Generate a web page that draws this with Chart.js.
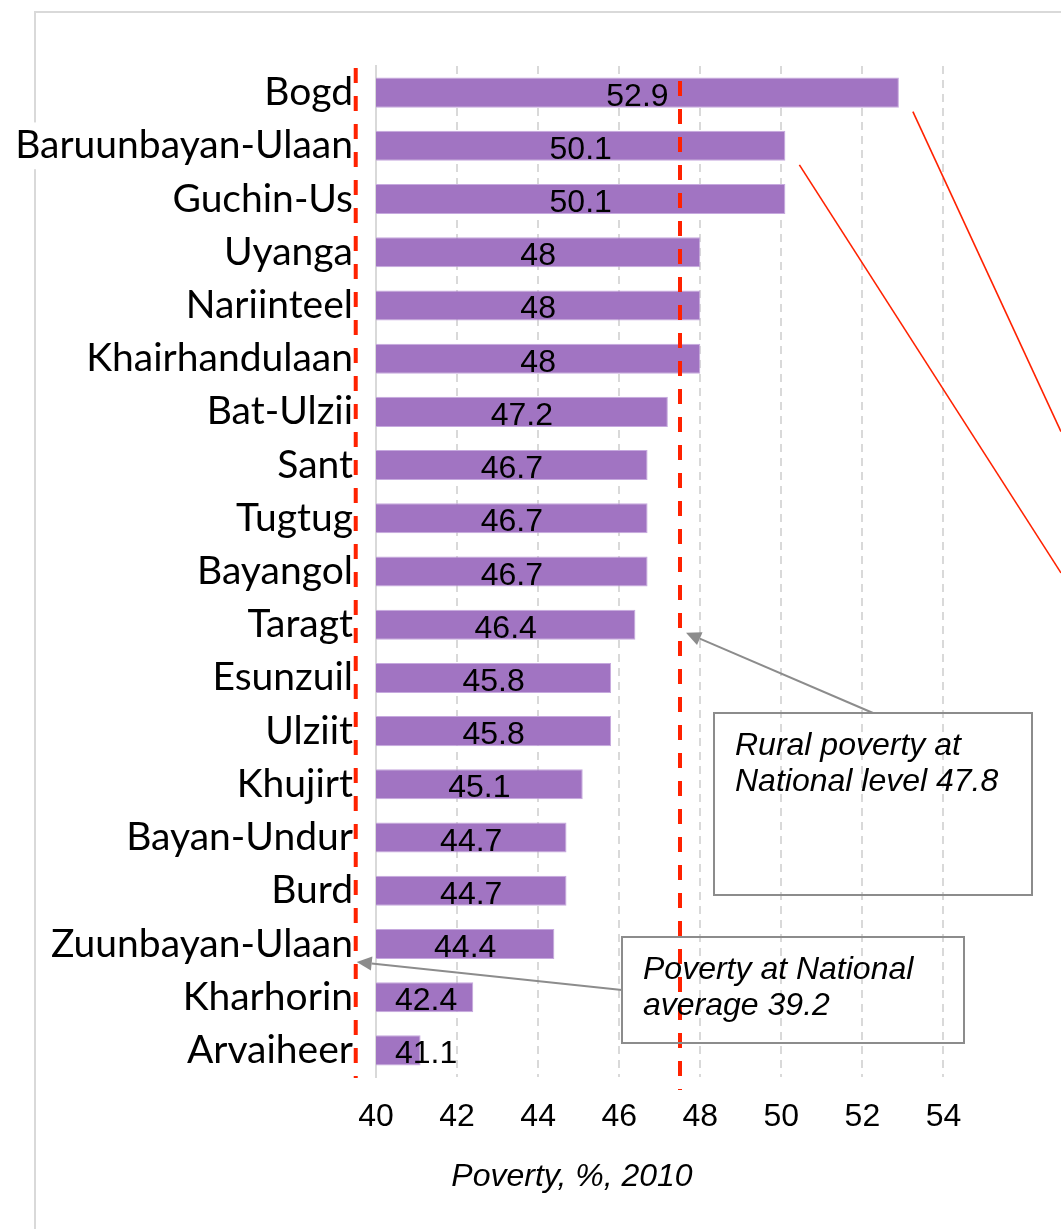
<!DOCTYPE html>
<html>
<head>
<meta charset="utf-8">
<script src="https://cdn.jsdelivr.net/npm/chart.js@4.4.1/dist/chart.umd.min.js"></script>
<style>
  html, body { margin: 0; padding: 0; background: #fff; }
  canvas { display: block; }
</style>
</head>
<body>
<canvas id="chart" width="1061" height="1229"></canvas>
<script>
const soums = ['Bogd', 'Baruunbayan-Ulaan', 'Guchin-Us', 'Uyanga', 'Nariinteel', 'Khairhandulaan',
    'Bat-Ulzii', 'Sant', 'Tugtug', 'Bayangol', 'Taragt', 'Esunzuil', 'Ulziit', 'Khujirt',
    'Bayan-Undur', 'Burd', 'Zuunbayan-Ulaan', 'Kharhorin', 'Arvaiheer'];
const poverty = [52.9, 50.1, 50.1, 48, 48, 48, 47.2, 46.7, 46.7, 46.7, 46.4, 45.8, 45.8, 45.1,
    44.7, 44.7, 44.4, 42.4, 41.1];
const xTicks = [40, 42, 44, 46, 48, 50, 52, 54];
// where the two dashed reference lines sit in the source figure
const refLines = [39.5, 47.5];
const ruralNote = ['Rural poverty at', 'National level 47.8'];
const nationalNote = ['Poverty at National', 'average 39.2'];
const axisTitle = 'Poverty, %, 2010';

const AXIS_FONT = "Arial, 'Liberation Sans', sans-serif";
const LABEL_FONT = "Lato, 'Open Sans', sans-serif";

function drawArrow(ctx, x1, y1, x2, y2) {
    const ang = Math.atan2(y2 - y1, x2 - x1);
    const head = 15, half = 7;
    const bx = x2 - head * Math.cos(ang), by = y2 - head * Math.sin(ang);
    ctx.beginPath();
    ctx.moveTo(x1, y1);
    ctx.lineTo(bx, by);
    ctx.stroke();
    ctx.beginPath();
    ctx.moveTo(x2, y2);
    ctx.lineTo(bx + half * Math.sin(ang), by - half * Math.cos(ang));
    ctx.lineTo(bx - half * Math.sin(ang), by + half * Math.cos(ang));
    ctx.closePath();
    ctx.fill();
}

function drawNote(ctx, lines, left, top, right, bottom, textX, firstBaseline) {
    ctx.strokeStyle = '#8c8c8c';
    ctx.lineWidth = 2;
    ctx.strokeRect(left, top, right - left, bottom - top);
    ctx.fillStyle = '#000';
    ctx.font = `italic 32px ${AXIS_FONT}`;
    ctx.textAlign = 'left';
    ctx.textBaseline = 'alphabetic';
    lines.forEach((t, i) => ctx.fillText(t, textX, firstBaseline + i * 36));
}

const framePlugin = {
    id: 'frame',
    beforeDraw(chart) {
        const ctx = chart.ctx;
        ctx.save();
        ctx.fillStyle = '#fff';
        ctx.fillRect(0, 0, chart.width, chart.height);
        ctx.strokeStyle = '#d9d9d9';
        ctx.lineWidth = 2;
        ctx.beginPath();
        ctx.moveTo(35, chart.height);
        ctx.lineTo(35, 12);
        ctx.lineTo(chart.width, 12);
        ctx.stroke();
        ctx.restore();
    }
};

const notes = {
    id: 'notes',
    afterDraw(chart) {
        const ctx = chart.ctx;
        const xs = chart.scales.x, ys = chart.scales.y;
        const area = chart.chartArea;
        ctx.save();

        // value labels, centred in each bar (short bars push the label right)
        ctx.font = `32px ${AXIS_FONT}`;
        ctx.fillStyle = '#000';
        ctx.textAlign = 'center';
        ctx.textBaseline = 'alphabetic';
        const x0 = xs.getPixelForValue(40);
        poverty.forEach((v, i) => {
            const txt = String(v);
            const half = ctx.measureText(txt).width / 2;
            const cx = Math.max((x0 + xs.getPixelForValue(v)) / 2, x0 + 19 + half);
            ctx.fillText(txt, cx, ys.getPixelForValue(i) + 13);
        });

        // red dashed reference lines
        ctx.strokeStyle = '#ff2200';
        ctx.lineWidth = 4;
        ctx.setLineDash([15, 13]);
        const lx = xs.getPixelForValue(refLines[0]);
        ctx.beginPath();
        ctx.moveTo(lx, area.top + 2);
        ctx.lineTo(lx, area.bottom + 1);
        ctx.stroke();
        const rx = xs.getPixelForValue(refLines[1]);
        ctx.beginPath();
        ctx.moveTo(rx, area.top + 15);
        ctx.lineTo(rx, area.bottom + 13);
        ctx.stroke();
        ctx.setLineDash([]);

        // thin red leaders from the two top bars
        ctx.lineWidth = 1.6;
        const slopes = [2.16, 1.56];
        [0, 1].forEach((i, k) => {
            const sx = xs.getPixelForValue(poverty[i]) + 14;
            const sy = ys.getPixelForValue(i) + 19;
            ctx.beginPath();
            ctx.moveTo(sx, sy);
            ctx.lineTo(chart.width, sy + (chart.width - sx) * slopes[k]);
            ctx.stroke();
        });

        // annotation boxes with arrows
        ctx.strokeStyle = '#8c8c8c';
        ctx.fillStyle = '#8c8c8c';
        ctx.lineWidth = 2;
        drawArrow(ctx, 873, 713, rx + 6, ys.getPixelForValue(10) + 8);
        drawArrow(ctx, 622, 990, lx + 1, ys.getPixelForValue(16) + 18);
        drawNote(ctx, ruralNote, 714, 713, 1032, 895, 735, 755);
        drawNote(ctx, nationalNote, 622, 937, 964, 1043, 643, 979);

        // axis title
        ctx.font = `italic 32px ${AXIS_FONT}`;
        ctx.fillStyle = '#000';
        ctx.textAlign = 'center';
        ctx.fillText(axisTitle, 572, 1186);
        ctx.restore();
    }
};

new Chart(document.getElementById('chart'), {
    type: 'bar',
    data: {
        labels: soums,
        datasets: [{
            data: poverty,
            backgroundColor: '#a174c2',
            borderColor: '#c6a9de',
            borderWidth: 1,
            barPercentage: 0.565,
            categoryPercentage: 1
        }]
    },
    options: {
        indexAxis: 'y',
        responsive: false,
        animation: false,
        devicePixelRatio: 1,
        layout: { padding: { top: 66, right: 77, left: 0, bottom: 0 } },
        plugins: { legend: { display: false }, tooltip: { enabled: false } },
        scales: {
            x: {
                min: 40,
                max: 55,
                afterBuildTicks: s => { s.ticks = xTicks.map(v => ({ value: v })); },
                afterFit: s => { s.height = 152; },
                ticks: { font: { family: AXIS_FONT, size: 32 }, color: '#000', padding: 21, maxRotation: 0 },
                grid: {
                    color: c => (c.tick && c.tick.value === 40) ? 'rgba(0,0,0,0)' : '#d9d9d9',
                    lineWidth: 2,
                    drawTicks: false
                },
                border: { display: false, dash: [8, 6] }
            },
            y: {
                afterFit: s => { s.width = 376; },
                ticks: {
                    font: { family: LABEL_FONT, size: 39 },
                    color: '#000',
                    padding: 23,
                    autoSkip: false,
                    showLabelBackdrop: c => c.index === 1 || c.index === 16,
                    backdropColor: '#fff',
                    backdropPadding: c => c.index === 1
                        ? { top: 11, bottom: -6, left: 20, right: 0 }
                        : { top: 4, bottom: 1, left: 20, right: 0 }
                },
                grid: { display: false, drawTicks: false },
                border: { display: true, color: '#d9d9d9', width: 2 }
            }
        }
    },
    plugins: [framePlugin, notes]
});
</script>
</body>
</html>
